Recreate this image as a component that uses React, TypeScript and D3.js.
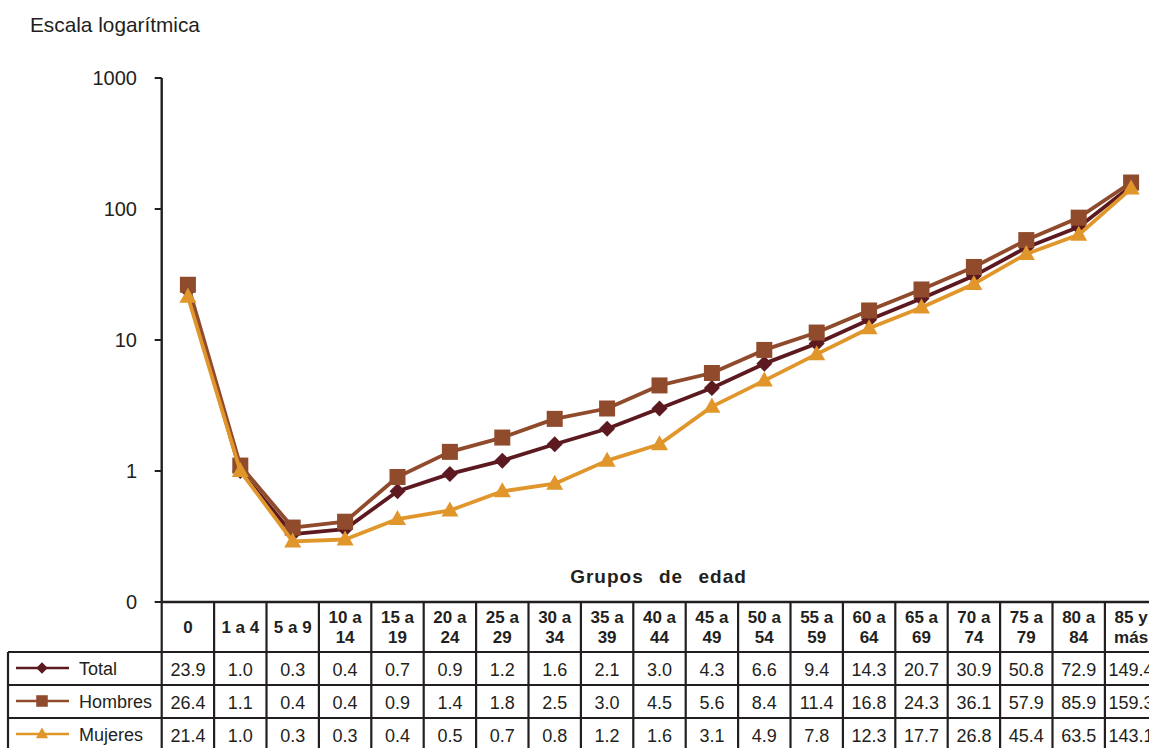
import React from "react";
import * as d3 from "d3";

const categories = ["0", "1 a 4", "5 a 9", "10 a 14", "15 a 19", "20 a 24", "25 a 29", "30 a 34", "35 a 39", "40 a 44", "45 a 49", "50 a 54", "55 a 59", "60 a 64", "65 a 69", "70 a 74", "75 a 79", "80 a 84", "85 y más"];
const headerLines = [["0"], ["1 a 4"], ["5 a 9"], ["10 a", "14"], ["15 a", "19"], ["20 a", "24"], ["25 a", "29"], ["30 a", "34"], ["35 a", "39"], ["40 a", "44"], ["45 a", "49"], ["50 a", "54"], ["55 a", "59"], ["60 a", "64"], ["65 a", "69"], ["70 a", "74"], ["75 a", "79"], ["80 a", "84"], ["85 y", "más"]];

const total = [23.9, 1.0, 0.33, 0.36, 0.7, 0.95, 1.2, 1.6, 2.1, 3.0, 4.3, 6.6, 9.4, 14.3, 20.7, 30.9, 50.8, 72.9, 149.4];
const hombres = [26.4, 1.1, 0.37, 0.41, 0.9, 1.4, 1.8, 2.5, 3.0, 4.5, 5.6, 8.4, 11.4, 16.8, 24.3, 36.1, 57.9, 85.9, 159.3];
const mujeres = [21.4, 1.0, 0.29, 0.3, 0.43, 0.5, 0.7, 0.8, 1.2, 1.6, 3.1, 4.9, 7.8, 12.3, 17.7, 26.8, 45.4, 63.5, 143.1];

const yTicks = [0.1, 1, 10, 100, 1000];
const yTickLabels = ["0", "1", "10", "100", "1000"];

const series = [
  { name: "Total", values: total, color: "#5C1A20", marker: "diamond" },
  { name: "Hombres", values: hombres, color: "#8F4B2C", marker: "square" },
  { name: "Mujeres", values: mujeres, color: "#E0962A", marker: "triangle" },
];

const W = 1149;
const H = 748;
const FONT = "'Liberation Sans', Arial, Helvetica, sans-serif";
const TXT = "#231F20";

function Marker({ type, x, y, color, k = 1 }: { type: string; x: number; y: number; color: string; k?: number }) {
  if (type === "diamond") {
    const r = 8 * k;
    return <path d={`M${x},${y - r}L${x + r},${y}L${x},${y + r}L${x - r},${y}Z`} fill={color} />;
  }
  if (type === "square") {
    const s = 16 * k;
    return <rect x={x - s / 2} y={y - s / 2} width={s} height={s} fill={color} />;
  }
  const w = 17 * k;
  const h = 15 * k;
  return <path d={`M${x},${y - h * 0.6}L${x + w / 2},${y + h * 0.4}L${x - w / 2},${y + h * 0.4}Z`} fill={color} />;
}

export default function App() {
  const tableLeft = 161.7;
  const colW = 52.4;
  const x = d3
    .scaleBand<string>()
    .domain(categories)
    .range([tableLeft, tableLeft + colW * categories.length])
    .padding(0);
  const y = d3.scaleLog().domain([0.1, 1000]).range([602, 78]);
  const cx = (c: string) => (x(c) as number) + x.bandwidth() / 2;

  const line = d3
    .line<number>()
    .x((_, i) => cx(categories[i]))
    .y((v) => y(v));

  const headerTop = 602;
  const rowTop = 652;
  const rowH = 33;
  const legendLeft = 8;
  const tableRight = tableLeft + colW * categories.length;
  const border = "#231F20";

  return (
    <svg width={W} height={H} style={{ position: "absolute", left: 0, top: 0, background: "#fff" }} fontFamily={FONT}>
      <rect x={0} y={0} width={W} height={H} fill="#fff" />
      <text x={30} y={32} fontSize={20.8} fill={TXT}>Escala logarítmica</text>

      {/* y axis */}
      <line x1={tableLeft} x2={tableLeft} y1={y(1000)} y2={headerTop} stroke={border} strokeWidth={2.4} />
      {yTicks.map((t, i) => (
        <g key={t}>
          <line x1={tableLeft - 7} x2={tableLeft} y1={y(t)} y2={y(t)} stroke={border} strokeWidth={2} />
          <text x={137} y={y(t) + 7} textAnchor="end" fontSize={20} fill={TXT}>{yTickLabels[i]}</text>
        </g>
      ))}

      <text x={658.5} y={583} textAnchor="middle" fontSize={19} fontWeight="bold" fill={TXT} letterSpacing={1} wordSpacing={9}>Grupos de edad</text>

      {/* series */}
      {series.map((s) => (
        <g key={s.name}>
          <path d={line(s.values) as string} fill="none" stroke={s.color} strokeWidth={3.8} strokeLinejoin="round" />
          {s.values.map((v, i) => (
            <Marker key={i} type={s.marker} x={cx(categories[i])} y={y(v)} color={s.color} />
          ))}
        </g>
      ))}

      {/* table header */}
      {categories.map((c, i) => {
        const lines = headerLines[i];
        const xc = cx(c);
        return (
          <g key={c}>
            {lines.length === 1 ? (
              <text x={xc} y={633} textAnchor="middle" fontSize={17} fontWeight="bold" fill={TXT}>{lines[0]}</text>
            ) : (
              <>
                <text x={xc} y={623} textAnchor="middle" fontSize={17} fontWeight="bold" fill={TXT}>{lines[0]}</text>
                <text x={xc} y={643} textAnchor="middle" fontSize={17} fontWeight="bold" fill={TXT}>{lines[1]}</text>
              </>
            )}
          </g>
        );
      })}

      {/* table body values + legend */}
      {series.map((s, r) => (
        <g key={s.name}>
          {s.values.map((v, i) => (
            <text key={i} x={cx(categories[i])} y={rowTop + r * rowH + 24} textAnchor="middle" fontSize={18} fill={TXT}>
              {v.toFixed(1)}
            </text>
          ))}
          <line x1={legendLeft + 8} x2={legendLeft + 61} y1={rowTop + r * rowH + 16} y2={rowTop + r * rowH + 16} stroke={s.color} strokeWidth={2.5} />
          <Marker type={s.marker} x={legendLeft + 34} y={rowTop + r * rowH + 16} color={s.color} k={0.72} />
          <text x={79} y={rowTop + r * rowH + 23} fontSize={18} fill={TXT}>{s.name}</text>
        </g>
      ))}

      {/* table grid */}
      <line x1={tableLeft} x2={tableRight} y1={headerTop} y2={headerTop} stroke={border} strokeWidth={2.6} />
      {[0, 1, 2, 3].map((r) => (
        <line key={r} x1={legendLeft} x2={tableRight} y1={rowTop + r * rowH} y2={rowTop + r * rowH} stroke={border} strokeWidth={2.2} />
      ))}
      <line x1={legendLeft} x2={legendLeft} y1={rowTop} y2={rowTop + 3 * rowH} stroke={border} strokeWidth={2.2} />
      {d3.range(categories.length + 1).map((i) => (
        <line
          key={i}
          x1={tableLeft + i * colW}
          x2={tableLeft + i * colW}
          y1={headerTop}
          y2={rowTop + 3 * rowH}
          stroke={border}
          strokeWidth={2.2}
        />
      ))}
    </svg>
  );
}
